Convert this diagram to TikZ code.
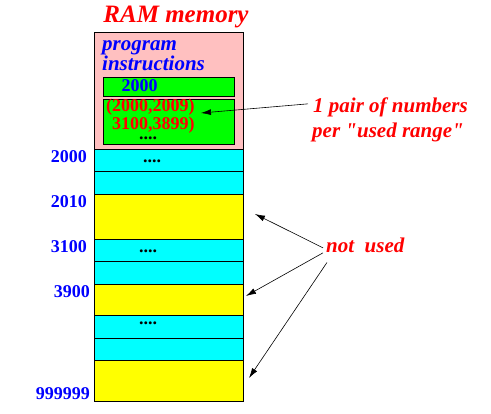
\documentclass[tikz,border=0pt]{standalone}
\usepackage{fontspec}
\setmainfont{Liberation Serif}[Ligatures=TeXOff]
\usetikzlibrary{positioning,arrows.meta}
\definecolor{ramPink}{RGB}{255,192,192}
\definecolor{usedCyan}{RGB}{0,255,255}
\definecolor{listGreen}{RGB}{0,255,0}
\definecolor{freeYellow}{RGB}{255,255,0}

\tikzset{
  cell/.style={draw, line width=0.8pt, minimum width=149pt, inner sep=0pt, outer sep=0pt},
  greenbox/.style={draw, line width=0.8pt, fill=listGreen, minimum width=131pt, inner sep=0pt, outer sep=0pt, anchor=north west},
  num/.style={font=\fontsize{18}{20}\selectfont\bfseries, inner sep=0pt},
  note/.style={font=\fontsize{21}{25}\selectfont\bfseries\itshape, text=red, inner sep=3pt},
  arr/.style={line width=0.6pt, -{Latex[length=10pt,width=6pt]}}
}

\begin{document}
\begin{tikzpicture}[x=1pt,y=-1pt]
\useasboundingbox (0,0) rectangle (491,414);

\node[font=\fontsize{25}{30}\selectfont\bfseries\itshape, text=red, anchor=base, inner sep=0pt] (title) at (176,23) {RAM memory};

% memory column
\node[cell, fill=ramPink, minimum height=117pt, anchor=north west] (prog) at (94,32) {};
\node[cell, fill=usedCyan, minimum height=22pt, below=0pt of prog] (c1) {};
\node[cell, fill=usedCyan, minimum height=23pt, below=0pt of c1] (c2) {};
\node[cell, fill=freeYellow, minimum height=45pt, below=0pt of c2] (y1) {};
\node[cell, fill=usedCyan, minimum height=22pt, below=0pt of y1] (c3) {};
\node[cell, fill=usedCyan, minimum height=23pt, below=0pt of c3] (c4) {};
\node[cell, fill=freeYellow, minimum height=31pt, below=0pt of c4] (y2) {};
\node[cell, fill=usedCyan, minimum height=23pt, below=0pt of y2] (c5) {};
\node[cell, fill=usedCyan, minimum height=22pt, below=0pt of c5] (c6) {};
\node[cell, fill=freeYellow, minimum height=41pt, below=0pt of c6] (y3) {};

\node[font=\fontsize{21}{18}\selectfont\bfseries\itshape, text=blue, align=left, anchor=base west, inner sep=0pt] (progtxt) at (102,71) {program\\instructions};

\node[greenbox, minimum height=19pt] (g1) at (103,77) {};
\node[greenbox, minimum height=45pt] (g2) at (103,99) {};
\node[num, text=blue] (start) at (139.5,85.5) {2000};
\node[num, text=red, anchor=base west] (rangeA) at (106,112) {(2000,2009)};
\node[num, text=red, anchor=base west] (rangeB) at (112,130) {3100,3899)};
\node[num, anchor=base west] (moreg) at (139,140) {....};

% dots in the used rows
\node[num, anchor=base west] (dotsA) at (143,163) {....};
\node[num, anchor=base west] (dotsB) at (139,253) {....};
\node[num, anchor=base west] (dotsC) at (139,325) {....};

% addresses
\node[num, text=blue, anchor=east] (a2000) at (87,157) {2000};
\node[num, text=blue, anchor=east] (a2010) at (87,202) {2010};
\node[num, text=blue, anchor=east] (a3100) at (87,247) {3100};
\node[num, text=blue, anchor=east] (a3900) at (90,292) {3900};
\node[num, text=blue, anchor=east] (aend) at (90,394) {999999};

% notes
\node[note, anchor=base west] (pairA) at (310,113) {1 pair of numbers};
\node[note, anchor=base west] (pairB) at (309,138) {per "used range"};
\node[note, anchor=base west] (unused) at (323,253) {not\ \ used};

\coordinate (pairtip) at (201,113);
\coordinate (tipA) at (255,214);
\coordinate (tipB) at (246,296);
\coordinate (tipC) at (249,378);

\draw[arr] ([shift={(-2pt,4pt)}]pairA.west) -- (pairtip);
\draw[arr] ([yshift=-2pt]unused.west) -- (tipA);
\draw[arr] ([yshift=-7pt]unused.west) -- (tipB);
\draw[arr] ([shift={(4pt,-6pt)}]unused.south west) -- (tipC);
\end{tikzpicture}
\end{document}
